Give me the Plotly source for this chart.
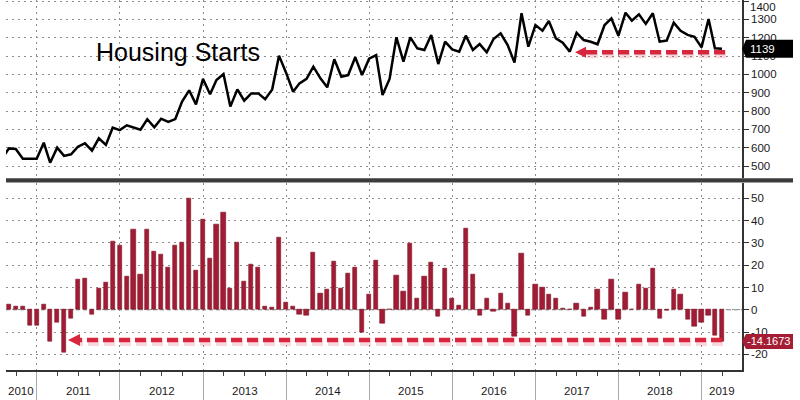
import pandas as pd
import plotly.graph_objects as go

# ---------------- data ----------------
dates = pd.date_range("2010-07-31", "2019-03-31", freq="ME")

housing_starts = [
    540, 596, 593, 540, 540, 540,                                   # 2010 Jul-Dec
    627, 518, 600, 555, 564, 605, 624, 584, 651, 615, 709, 696,     # 2011
    722, 709, 698, 755, 711, 758, 740, 756, 851, 913, 836, 975,     # 2012
    891, 969, 1002, 824, 918, 856, 896, 896, 864, 918, 1102, 1009,  # 2013
    905, 951, 975, 1042, 978, 929, 1082, 987, 996, 1093, 996, 1085, # 2014
    1105, 887, 975, 1202, 1069, 1202, 1142, 1133, 1215, 1056, 1178, 1136,  # 2015
    1124, 1211, 1133, 1165, 1120, 1193, 1224, 1160, 1064, 1333, 1151, 1269,  # 2016
    1238, 1291, 1196, 1173, 1124, 1227, 1187, 1178, 1164, 1269, 1305, 1211,  # 2017
    1336, 1293, 1327, 1275, 1333, 1178, 1184, 1282, 1238, 1215, 1205, 1147,  # 2018
    1302, 1142, 1139,                                               # 2019
]

yoy_change = [
    None, 2.2, 1.5, 1.5, -7.0, -7.0,                                 # 2010 Jul-Dec
    2.5, -14.0, -5.5, -19.1, -3.7, 13.5, 14.1, -2.2, 9.4, 12.3, 30.6, 28.8,   # 2011
    14.8, 36.2, 15.8, 36.2, 26.2, 24.7, 18.8, 28.8, 30.2, 50.1, 17.5, 40.7,   # 2012
    22.9, 38.1, 43.8, 9.7, 30.2, 12.7, 20.2, 19.1, 1.5, 0.9, 32.4, 3.4,       # 2013
    1.5, -1.9, -2.5, 25.9, 7.5, 9.0, 21.8, 9.7, 16.3, 19.0, -10.0, 7.0,       # 2014
    22.1, -6.3, 0.3, 15.4, 8.1, 29.6, 5.2, 15.1, 21.1, -3.0, 18.5, 5.2,       # 2015
    1.8, 36.6, 15.8, -2.7, 4.9, -0.9, 7.5, 2.7, -12.0, 25.4, -2.4, 11.5,      # 2016
    10.0, 6.7, 5.2, 0.5, 0.3, 3.0, -3.0, 0.9, 9.0, -4.5, 13.5, -4.5,          # 2017
    7.9, 0.2, 11.5, 9.7, 18.4, -3.7, -0.3, 9.3, 6.7, -4.2, -7.5, -5.5,        # 2018
    -2.7, -11.5, -14.1673,                                           # 2019
]

year_labels = ["2010", "2011", "2012", "2013", "2014", "2015", "2016", "2017", "2018", "2019"]
top_ticks = [500, 600, 700, 800, 900, 1000, 1100, 1200, 1300, 1400]
bottom_ticks = [-20, -10, 0, 10, 20, 30, 40, 50]
title_text = "Housing Starts"
last_start_label = "1139"
last_yoy_label = "-14.1673"

# ---------------- geometry helpers ----------------
W, H = 800, 400
L, R, T, B = 6, 58, 0, 30
PW, PH = W - L - R, H - T - B


def px(x):
    return (x - L) / PW


def py(y):
    return (PH - (y - T)) / PH


x_range = [pd.Timestamp("2010-08-18"), pd.Timestamp("2019-06-27")]
x_left_ext = pd.Timestamp("2010-08-12")

FONT_N = "Liberation Sans Narrow, Arial Narrow, Liberation Sans, Arial, sans-serif"
FS = 11.5
GRID = "#8c8c8c"
GRID_DASH = "2px,4px"
AXIS = "#333333"
BAR = "#a11c34"
ARROW = "#d7263d"

fig = go.Figure()

fig.add_trace(go.Scatter(
    x=dates, y=housing_starts, mode="lines",
    line=dict(color="black", width=2.5),
    xaxis="x", yaxis="y", hoverinfo="skip"))

bar_ms = 18.5 * 86400000
fig.add_trace(go.Bar(
    x=dates, y=yoy_change, width=[bar_ms] * len(dates),
    marker=dict(color=BAR, line=dict(width=0.6, color="#7d1426")),
    xaxis="x2", yaxis="y2", hoverinfo="skip"))

top_dom = [py(178.3), 1]
bot_dom = [0, py(182.5)]

common_x = dict(
    type="date", range=x_range, dtick="M12", tick0="2011-01-01",
    showgrid=True, gridcolor=GRID, griddash=GRID_DASH, gridwidth=1,
    zeroline=False,
)

fig.update_layout(
    width=W, height=H,
    margin=dict(l=L, r=R, t=T, b=B),
    paper_bgcolor="white", plot_bgcolor="white",
    showlegend=False, bargap=0,
    xaxis=dict(common_x, anchor="y", domain=[0, 1], showticklabels=False, ticks=""),
    xaxis2=dict(common_x, anchor="y2", domain=[0, 1], matches="x",
                showticklabels=False, ticks="outside", ticklen=30,
                tickcolor="#a8a8a8", tickwidth=1,
                showline=True, linecolor=AXIS, linewidth=1.5,
                minor=dict(ticks="outside", ticklen=4, tickcolor="#444",
                           dtick="M3", tick0="2011-01-01", showgrid=False)),
    yaxis=dict(domain=top_dom, anchor="x", side="right",
               range=[432.9, 1405.5],
               tickvals=top_ticks,
               ticktext=[str(v) if v != 1400 else "" for v in top_ticks],
               ticks="outside", ticklen=5, tickcolor=AXIS,
               tickfont=dict(family=FONT_N, size=FS, color="#1a1a1a"),
               showline=True, linecolor=AXIS, linewidth=1.5,
               showgrid=True, gridcolor=GRID, griddash=GRID_DASH, zeroline=False),
    yaxis2=dict(domain=bot_dom, anchor="x2", side="right",
                range=[-27.0, 57.08],
                tickvals=bottom_ticks,
                ticktext=[str(v) for v in bottom_ticks],
                ticks="outside", ticklen=5, tickcolor=AXIS,
                tickfont=dict(family=FONT_N, size=FS, color="#1a1a1a"),
                showline=True, linecolor=AXIS, linewidth=1.5,
                showgrid=True, gridcolor=GRID, griddash=GRID_DASH, zeroline=False),
)

shapes = []
annotations = []

# zero line (dashed)
shapes.append(dict(type="line", xref="paper", yref="y2", x0=0, x1=1, y0=0, y1=0,
                   line=dict(color="#808080", width=1, dash="4px,3px"), layer="below"))

# separator between panels
shapes.append(dict(type="rect", xref="paper", yref="paper",
                   x0=px(6), x1=px(793), y0=py(182.5), y1=py(178.3),
                   fillcolor="#3c3c3c", line=dict(width=0)))


# dashed red arrows
def dashed_arrow(yref, yval, x_right, x_tip, head_len, head_half, shadow_off):
    shapes.append(dict(type="line", xref="paper", yref=yref,
                       x0=px(x_right + 1), x1=px(x_tip + head_len - 1),
                       y0=yval - shadow_off, y1=yval - shadow_off,
                       line=dict(color="rgba(215,38,61,0.18)", width=8, dash="11px,5px")))
    shapes.append(dict(type="line", xref="paper", yref=yref,
                       x0=px(x_right), x1=px(x_tip + head_len - 1),
                       y0=yval, y1=yval,
                       line=dict(color=ARROW, width=4.5, dash="11px,5px")))
    shapes.append(dict(type="path", xref="paper", yref=yref,
                       xsizemode="pixel", ysizemode="pixel",
                       xanchor=px(x_tip), yanchor=yval,
                       path=f"M 0,0 L {head_len},{head_half} L {head_len},{-head_half} Z",
                       fillcolor=ARROW, line=dict(width=0)))


dashed_arrow("y", 1120, 725, 575, 11, 5.5, 11)
dashed_arrow("y2", -13.6, 722, 68, 12, 6, 0.9)

# value label boxes at the right axis
shapes.append(dict(type="path", xref="paper", yref="y",
                   xsizemode="pixel", ysizemode="pixel",
                   xanchor=1, yanchor=1139,
                   path="M 0,0 L 4,9 L 51,9 L 51,-9 L 4,-9 Z",
                   fillcolor="black", line=dict(width=0)))
annotations.append(dict(xref="paper", yref="y", x=px(748), y=1139,
                        xanchor="left", yanchor="middle", showarrow=False,
                        text=last_start_label,
                        font=dict(family=FONT_N, size=FS, color="white")))

shapes.append(dict(type="path", xref="paper", yref="y2",
                   xsizemode="pixel", ysizemode="pixel",
                   xanchor=1, yanchor=-14.1673,
                   path="M 0,0 L 4,7.5 L 51,7.5 L 51,-7.5 L 4,-7.5 Z",
                   fillcolor="#a51d35", line=dict(width=0)))
annotations.append(dict(xref="paper", yref="y2", x=px(745), y=-14.1673,
                        xanchor="left", yanchor="middle", showarrow=False,
                        text=last_yoy_label,
                        font=dict(family=FONT_N, size=11, color="white")))

# 1400 label (sits slightly lower than its gridline, like the original)
annotations.append(dict(xref="paper", yref="paper", x=px(748), y=py(7),
                        xanchor="left", yanchor="middle", showarrow=False,
                        text="1400", font=dict(family=FONT_N, size=FS, color="#1a1a1a")))

# title text
annotations.append(dict(xref="paper", yref="paper", x=px(178), y=py(52),
                        xanchor="center", yanchor="middle", showarrow=False,
                        text=title_text,
                        font=dict(family="Liberation Sans, Arial, sans-serif", size=25, color="black")))

# year labels centred in the visible part of each year
for lab in year_labels:
    y0 = pd.Timestamp(f"{lab}-01-01")
    y1 = pd.Timestamp(f"{int(lab) + 1}-01-01")
    lo = max(y0, x_left_ext)
    hi = min(y1, x_range[1])
    mid = lo + (hi - lo) / 2
    annotations.append(dict(xref="x2", yref="paper", x=mid, y=py(391),
                            xanchor="center", yanchor="middle", showarrow=False,
                            text=lab, font=dict(family=FONT_N, size=FS, color="#1a1a1a")))

fig.update_layout(shapes=shapes, annotations=annotations)

fig.write_html("out.html")
